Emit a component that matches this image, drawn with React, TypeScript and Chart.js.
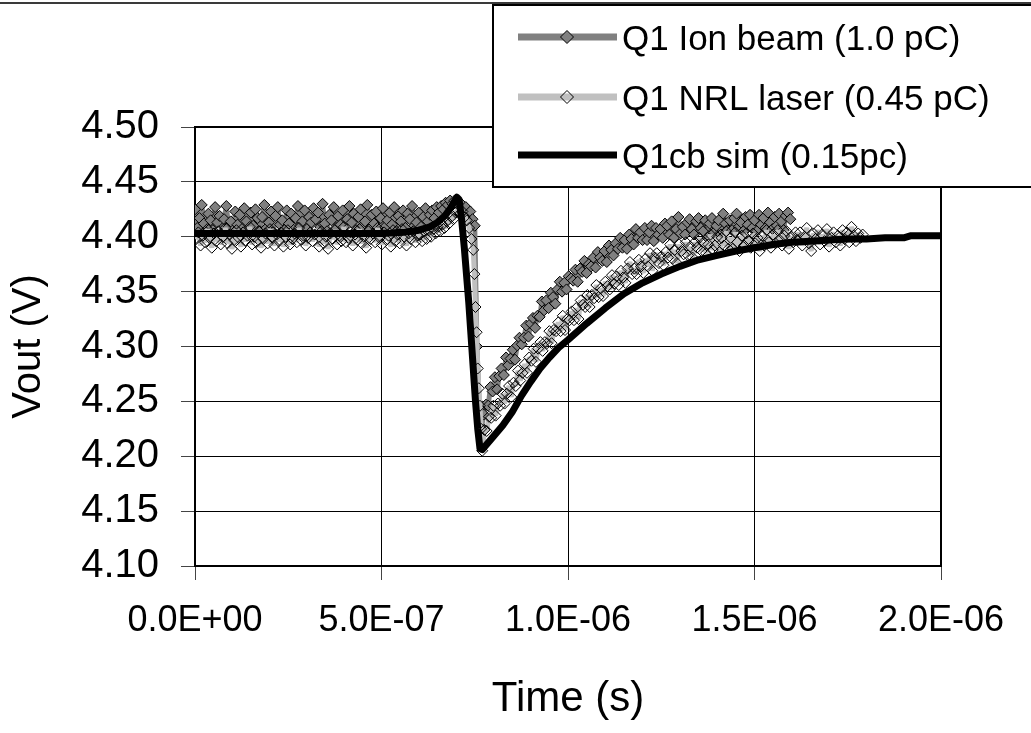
import React, { useEffect, useRef } from "react";
import { Chart, registerables } from "chart.js";

Chart.register(...registerables);

// ---------- data ----------
const seriesLabels = ["Q1 Ion beam (1.0 pC)", "Q1 NRL laser (0.45 pC)", "Q1cb sim (0.15pc)"];

const xTickValuesNs = [0, 500, 1000, 1500, 2000];
const xTickLabels = ["0.0E+00", "5.0E-07", "1.0E-06", "1.5E-06", "2.0E-06"];
const yTickValues = [4.1, 4.15, 4.2, 4.25, 4.3, 4.35, 4.4, 4.45, 4.5];
const yTickLabels = ["4.10", "4.15", "4.20", "4.25", "4.30", "4.35", "4.40", "4.45", "4.50"];

const xAxisTitle = "Time (s)";
const yAxisTitle = "Vout (V)";

const ionTimesNs = [
  0, 6, 12, 18, 24, 30, 36, 42, 48, 54,
  60, 66, 72, 78, 84, 90, 96, 102, 108, 114,
  120, 126, 132, 138, 144, 150, 156, 162, 168, 174,
  180, 186, 192, 198, 204, 210, 216, 222, 228, 234,
  240, 246, 252, 258, 264, 270, 276, 282, 288, 294,
  300, 306, 312, 318, 324, 330, 336, 342, 348, 354,
  360, 366, 372, 378, 384, 390, 396, 402, 408, 414,
  420, 426, 432, 438, 444, 450, 456, 462, 468, 474,
  480, 486, 492, 498, 504, 510, 516, 522, 528, 534,
  540, 546, 552, 558, 564, 570, 576, 582, 588, 594,
  600, 606, 612, 618, 624, 630, 636, 642, 648, 654,
  660, 666, 672, 678, 684, 690, 696, 702, 708, 714,
  720, 726, 732, 738, 744, 750, 756, 762, 768, 774,
  780, 786, 792, 798, 804, 810, 816, 822, 828, 834,
  840, 846, 852, 858, 864, 870, 876, 882, 888, 894,
  900, 906, 912, 918, 924, 930, 936, 942, 948, 954,
  960, 966, 972, 978, 984, 990, 996, 1002, 1008, 1014,
  1020, 1026, 1032, 1038, 1044, 1050, 1056, 1062, 1068, 1074,
  1080, 1086, 1092, 1098, 1104, 1110, 1116, 1122, 1128, 1134,
  1140, 1146, 1152, 1158, 1164, 1170, 1176, 1182, 1188, 1194,
  1200, 1206, 1212, 1218, 1224, 1230, 1236, 1242, 1248, 1254,
  1260, 1266, 1272, 1278, 1284, 1290, 1296, 1302, 1308, 1314,
  1320, 1326, 1332, 1338, 1344, 1350, 1356, 1362, 1368, 1374,
  1380, 1386, 1392, 1398, 1404, 1410, 1416, 1422, 1428, 1434,
  1440, 1446, 1452, 1458, 1464, 1470, 1476, 1482, 1488, 1494,
  1500, 1506, 1512, 1518, 1524, 1530, 1536, 1542, 1548, 1554,
  1560, 1566, 1572, 1578, 1584, 1590, 1596,
];
const ionVout = [
  4.425, 4.408, 4.417, 4.429, 4.412, 4.404, 4.421, 4.415, 4.406, 4.427,
  4.413, 4.419, 4.403, 4.416, 4.428, 4.409, 4.414, 4.401, 4.423, 4.411,
  4.420, 4.407, 4.426, 4.414, 4.402, 4.422, 4.410, 4.425, 4.417, 4.405,
  4.418, 4.429, 4.408, 4.413, 4.423, 4.404, 4.419, 4.427, 4.411, 4.415,
  4.406, 4.424, 4.412, 4.421, 4.402, 4.417, 4.428, 4.410, 4.414, 4.424,
  4.407, 4.418, 4.413, 4.426, 4.416, 4.422, 4.409, 4.430, 4.412, 4.405,
  4.420, 4.415, 4.427, 4.408, 4.419, 4.411, 4.424, 4.403, 4.416, 4.428,
  4.413, 4.421, 4.406, 4.418, 4.425, 4.410, 4.414, 4.429, 4.407, 4.420,
  4.412, 4.423, 4.404, 4.417, 4.426, 4.409, 4.415, 4.422, 4.411, 4.427,
  4.405, 4.419, 4.414, 4.424, 4.408, 4.421, 4.416, 4.428, 4.410, 4.413,
  4.422, 4.409, 4.418, 4.426, 4.414, 4.420, 4.424, 4.417, 4.427, 4.422,
  4.428, 4.425, 4.431, 4.429, 4.433, 4.430, 4.433, 4.431, 4.428, 4.430,
  4.424, 4.427, 4.420, 4.423, 4.416, 4.410, 4.300, 4.248, 4.226, 4.238,
  4.247, 4.246, 4.263, 4.259, 4.272, 4.261, 4.273, 4.280, 4.274, 4.290,
  4.283, 4.289, 4.297, 4.288, 4.301, 4.308, 4.302, 4.308, 4.319, 4.309,
  4.321, 4.326, 4.317, 4.328, 4.327, 4.341, 4.333, 4.342, 4.335, 4.349,
  4.345, 4.339, 4.352, 4.359, 4.350, 4.358, 4.352, 4.364, 4.362, 4.360,
  4.370, 4.359, 4.371, 4.368, 4.378, 4.367, 4.375, 4.373, 4.381, 4.372,
  4.386, 4.381, 4.378, 4.387, 4.377, 4.392, 4.388, 4.383, 4.394, 4.389,
  4.399, 4.390, 4.397, 4.389, 4.402, 4.398, 4.393, 4.407, 4.399, 4.404,
  4.397, 4.408, 4.397, 4.404, 4.410, 4.396, 4.408, 4.402, 4.407, 4.399,
  4.412, 4.410, 4.402, 4.414, 4.399, 4.407, 4.418, 4.403, 4.409, 4.402,
  4.413, 4.416, 4.407, 4.402, 4.414, 4.417, 4.408, 4.405, 4.415, 4.399,
  4.412, 4.417, 4.404, 4.410, 4.415, 4.402, 4.421, 4.412, 4.406, 4.415,
  4.406, 4.417, 4.421, 4.409, 4.413, 4.405, 4.418, 4.411, 4.420, 4.408,
  4.415, 4.405, 4.420, 4.411, 4.417, 4.408, 4.422, 4.413, 4.407, 4.418,
  4.410, 4.421, 4.414, 4.406, 4.419, 4.422, 4.416,
];

const nrlTimesNs = [
  0, 9, 15, 21, 27, 33, 39, 45, 51, 57,
  63, 69, 75, 81, 87, 93, 99, 105, 111, 117,
  123, 129, 135, 141, 147, 153, 159, 165, 171, 177,
  183, 189, 195, 201, 207, 213, 219, 225, 231, 237,
  243, 249, 255, 261, 267, 273, 279, 285, 291, 297,
  303, 309, 315, 321, 327, 333, 339, 345, 351, 357,
  363, 369, 375, 381, 387, 393, 399, 405, 411, 417,
  423, 429, 435, 441, 447, 453, 459, 465, 471, 477,
  483, 489, 495, 501, 507, 513, 519, 525, 531, 537,
  543, 549, 555, 561, 567, 573, 579, 585, 591, 597,
  603, 609, 615, 621, 627, 633, 639, 645, 651, 657,
  663, 669, 675, 681, 687, 693, 699, 705, 711, 717,
  723, 729, 735, 741,
  746, 749, 752, 755, 758, 761, 764, 767, 770,
  776, 782, 788, 794, 800, 806, 812, 818, 824, 830,
  836, 842, 848, 854, 860, 866, 872, 878, 884, 890,
  896, 902, 908, 914, 920, 926, 932, 938, 944, 950,
  956, 962, 968, 974, 980, 986, 992, 998, 1004, 1010,
  1016, 1022, 1028, 1034, 1040, 1046, 1052, 1058, 1064, 1070,
  1076, 1082, 1088, 1094, 1100, 1106, 1112, 1118, 1124, 1130,
  1136, 1142, 1148, 1154, 1160, 1166, 1172, 1178, 1184, 1190,
  1196, 1202, 1208, 1214, 1220, 1226, 1232, 1238, 1244, 1250,
  1256, 1262, 1268, 1274, 1280, 1286, 1292, 1298, 1304, 1310,
  1316, 1322, 1328, 1334, 1340, 1346, 1352, 1358, 1364, 1370,
  1376, 1382, 1388, 1394, 1400, 1406, 1412, 1418, 1424, 1430,
  1436, 1442, 1448, 1454, 1460, 1466, 1472, 1478, 1484, 1490,
  1496, 1502, 1508, 1514, 1520, 1526, 1532, 1538, 1544, 1550,
  1556, 1562, 1568, 1574, 1580, 1586, 1592, 1598, 1604, 1610,
  1616, 1622, 1628, 1634, 1640, 1646, 1652, 1658, 1664, 1670,
  1676, 1682, 1688, 1694, 1700, 1706, 1712, 1718, 1724, 1730,
  1736, 1742, 1748, 1754, 1760, 1766, 1772, 1778, 1784, 1790,
];
const nrlVout = [
  4.398, 4.404, 4.392, 4.401, 4.395, 4.407, 4.399, 4.390, 4.403, 4.396,
  4.405, 4.393, 4.400, 4.408, 4.394, 4.402, 4.389, 4.397, 4.406, 4.399,
  4.391, 4.404, 4.396, 4.401, 4.409, 4.393, 4.400, 4.395, 4.405, 4.390,
  4.398, 4.403, 4.394, 4.407, 4.399, 4.392, 4.402, 4.396, 4.404, 4.391,
  4.400, 4.406, 4.393, 4.398, 4.403, 4.395, 4.408, 4.397, 4.401, 4.392,
  4.399, 4.404, 4.396, 4.402, 4.407, 4.391, 4.405, 4.394, 4.400, 4.389,
  4.403, 4.398, 4.406, 4.393, 4.401, 4.396, 4.409, 4.395, 4.399, 4.404,
  4.392, 4.402, 4.397, 4.407, 4.394, 4.400, 4.390, 4.405, 4.398, 4.403,
  4.395, 4.408, 4.399, 4.393, 4.404, 4.397, 4.401, 4.391, 4.406, 4.396,
  4.402, 4.394, 4.407, 4.400, 4.392, 4.403, 4.398, 4.405, 4.395, 4.401,
  4.402, 4.396, 4.405, 4.398, 4.406, 4.400, 4.407, 4.403, 4.409, 4.405,
  4.411, 4.408, 4.414, 4.412, 4.418, 4.416, 4.422, 4.424, 4.421, 4.423,
  4.418, 4.415, 4.408, 4.398,
  4.388, 4.366, 4.336, 4.313, 4.280, 4.262, 4.246, 4.225, 4.205,
  4.224, 4.223, 4.236, 4.235, 4.246, 4.237, 4.248, 4.246, 4.257, 4.248,
  4.257, 4.264, 4.254, 4.267, 4.264, 4.278, 4.269, 4.276, 4.284, 4.276,
  4.290, 4.287, 4.298, 4.286, 4.298, 4.304, 4.296, 4.304, 4.303, 4.314,
  4.303, 4.315, 4.314, 4.322, 4.314, 4.328, 4.315, 4.325, 4.324, 4.332,
  4.324, 4.335, 4.325, 4.342, 4.338, 4.336, 4.347, 4.336, 4.347, 4.344,
  4.356, 4.345, 4.353, 4.346, 4.359, 4.355, 4.352, 4.365, 4.357, 4.364,
  4.356, 4.369, 4.363, 4.358, 4.371, 4.377, 4.366, 4.371, 4.366, 4.379,
  4.373, 4.367, 4.380, 4.373, 4.385, 4.369, 4.381, 4.385, 4.376, 4.382,
  4.374, 4.386, 4.381, 4.393, 4.380, 4.388, 4.376, 4.393, 4.387, 4.384,
  4.395, 4.383, 4.391, 4.381, 4.395, 4.390, 4.399, 4.387, 4.395, 4.385,
  4.393, 4.402, 4.388, 4.392, 4.400, 4.386, 4.399, 4.392, 4.405, 4.389,
  4.399, 4.389, 4.404, 4.395, 4.387, 4.401, 4.392, 4.403, 4.396, 4.390,
  4.403, 4.394, 4.399, 4.387, 4.401, 4.392, 4.406, 4.395, 4.390, 4.402,
  4.394, 4.406, 4.397, 4.392, 4.401, 4.405, 4.389, 4.400, 4.395, 4.404,
  4.397, 4.404, 4.392, 4.400, 4.408, 4.394, 4.387, 4.403, 4.398, 4.406,
  4.393, 4.402, 4.396, 4.407, 4.391, 4.399, 4.404, 4.395, 4.401, 4.392,
  4.406, 4.398, 4.404, 4.395, 4.409, 4.401, 4.396, 4.403, 4.399, 4.402,
];

const simTimesNs = [
  0, 100, 200, 300, 400, 500, 560, 600, 630, 650,
  670, 685, 695, 702, 708, 715, 722, 728, 734, 740,
  746, 752, 758, 764, 770, 780, 800, 825, 850, 875,
  900, 925, 950, 975, 1000, 1050, 1100, 1150, 1200, 1250,
  1300, 1350, 1400, 1450, 1500, 1550, 1600, 1650, 1700, 1750,
  1800, 1850, 1880, 1900, 1920, 2000,
];
const simVout = [
  4.403, 4.403, 4.403, 4.403, 4.403, 4.403, 4.404, 4.406, 4.409, 4.413,
  4.419, 4.426, 4.432, 4.436, 4.434, 4.415, 4.390, 4.365, 4.340, 4.310,
  4.280, 4.250, 4.225, 4.207, 4.206, 4.210, 4.218, 4.228, 4.240, 4.255,
  4.268, 4.280, 4.290, 4.299, 4.306, 4.321, 4.335, 4.348, 4.358, 4.366,
  4.373, 4.379, 4.383, 4.387, 4.390, 4.393, 4.395, 4.396, 4.397, 4.398,
  4.398, 4.399, 4.399, 4.399, 4.401, 4.401,
];

// ---------- styling ----------
const FONT = "'Liberation Sans', Arial, Helvetica, sans-serif";
const W = 1031;
const H = 733;

const toPoints = (xs: number[], ys: number[]) => xs.map((x, i) => ({ x, y: ys[i] }));

const decorPlugin = {
  id: "decor",
  beforeDatasetsDraw(chart: any) {
    const { ctx, chartArea } = chart;
    ctx.save();
    ctx.strokeStyle = "#000";
    ctx.lineWidth = 2;
    ctx.strokeRect(chartArea.left, chartArea.top, chartArea.right - chartArea.left, chartArea.bottom - chartArea.top);
    ctx.restore();
  },
  afterDraw(chart: any) {
    const ctx = chart.ctx as CanvasRenderingContext2D;
    ctx.save();
    // top border of the picture
    ctx.fillStyle = "#3a3a3a";
    ctx.fillRect(0, 2, chart.width, 2);

    // legend box
    const bx = 493, by = 5, bw = 560, bh = 182;
    ctx.fillStyle = "#fff";
    ctx.fillRect(bx, by, bw, bh);
    ctx.strokeStyle = "#000";
    ctx.lineWidth = 2;
    ctx.strokeRect(bx, by, bw, bh);

    const rowsY = [37, 97, 155];
    const baselines = [50, 110, 168];
    const ds = chart.data.datasets;
    ds.forEach((d: any, i: number) => {
      const y = rowsY[i];
      ctx.strokeStyle = d.borderColor;
      ctx.lineWidth = 7;
      ctx.lineCap = "butt";
      ctx.beginPath();
      ctx.moveTo(518, y);
      ctx.lineTo(617, y);
      ctx.stroke();
      if (d.pointRadius > 0) {
        const r = 6.5;
        ctx.beginPath();
        ctx.moveTo(567, y - r);
        ctx.lineTo(567 + r, y);
        ctx.lineTo(567, y + r);
        ctx.lineTo(567 - r, y);
        ctx.closePath();
        const bg = d.pointBackgroundColor;
        if (bg && bg !== "rgba(0,0,0,0)") {
          ctx.fillStyle = bg;
          ctx.fill();
        }
        ctx.strokeStyle = "#000";
        ctx.lineWidth = 1;
        ctx.stroke();
      }
      ctx.fillStyle = "#000";
      ctx.font = `35px ${FONT}`;
      ctx.textAlign = "left";
      ctx.textBaseline = "alphabetic";
      ctx.fillText(d.label, 622, baselines[i]);
    });
    ctx.restore();
  },
};

export default function App() {
  const canvasRef = useRef<HTMLCanvasElement | null>(null);

  useEffect(() => {
    document.body.style.margin = "0";
    const canvas = canvasRef.current;
    if (!canvas) return;

    const chart = new Chart(canvas, {
      type: "line",
      data: {
        datasets: [
          {
            label: seriesLabels[0],
            data: toPoints(ionTimesNs, ionVout),
            borderColor: "#808080",
            borderWidth: 5,
            borderJoinStyle: "bevel",
            pointStyle: "rectRot",
            pointRadius: 5.5,
            pointBackgroundColor: "#808080",
            pointBorderColor: "#000",
            pointBorderWidth: 1,
            tension: 0,
            order: 3,
          },
          {
            label: seriesLabels[1],
            data: toPoints(nrlTimesNs, nrlVout),
            borderColor: "#c0c0c0",
            borderWidth: 5,
            borderJoinStyle: "bevel",
            pointStyle: "rectRot",
            pointRadius: 5.5,
            pointBackgroundColor: "rgba(0,0,0,0)",
            pointBorderColor: "#000",
            pointBorderWidth: 1,
            tension: 0,
            order: 2,
          },
          {
            label: seriesLabels[2],
            data: toPoints(simTimesNs, simVout),
            borderColor: "#000",
            borderWidth: 7,
            borderJoinStyle: "round",
            pointRadius: 0,
            tension: 0,
            order: 1,
          },
        ],
      },
      options: {
        responsive: false,
        animation: false,
        devicePixelRatio: 1,
        layout: { padding: { left: 0, right: 90, top: 127, bottom: 0 } },
        plugins: {
          legend: { display: false },
          tooltip: { enabled: false },
          title: { display: false },
        },
        scales: {
          x: {
            type: "linear",
            min: 0,
            max: 2000,
            afterFit: (s: any) => {
              s.height = 167;
            },
            afterBuildTicks: (s: any) => {
              s.ticks = xTickValuesNs.map((v) => ({ value: v }));
            },
            ticks: {
              callback: (_v: any, i: number) => xTickLabels[i],
              font: { family: FONT, size: 36 },
              color: "#000",
              padding: 19,
              maxRotation: 0,
              autoSkip: false,
            },
            grid: { color: "#000", lineWidth: 1, tickLength: 14, tickColor: "#444" },
            border: { display: true, color: "#000", width: 2 },
            title: {
              display: true,
              text: xAxisTitle,
              font: { family: FONT, size: 42 },
              color: "#000",
              padding: { top: 0, bottom: 8 },
            },
          },
          y: {
            type: "linear",
            min: 4.1,
            max: 4.5,
            afterFit: (s: any) => {
              s.width = 195;
            },
            afterBuildTicks: (s: any) => {
              s.ticks = yTickValues.map((v) => ({ value: v }));
            },
            ticks: {
              callback: (_v: any, i: number) => yTickLabels[i],
              font: { family: FONT, size: 40 },
              color: "#000",
              padding: 22,
              autoSkip: false,
            },
            grid: { color: "#000", lineWidth: 1, tickLength: 14, tickColor: "#444" },
            border: { display: true, color: "#000", width: 2 },
            title: {
              display: true,
              text: yAxisTitle,
              font: { family: FONT, size: 40 },
              color: "#000",
              padding: { top: 5, bottom: 0 },
            },
          },
        },
      },
      plugins: [decorPlugin],
    });

    return () => chart.destroy();
  }, []);

  return (
    <div style={{ position: "fixed", left: 0, top: 0, width: W, height: H, background: "#fff" }}>
      <canvas ref={canvasRef} width={W} height={H} style={{ display: "block" }} />
    </div>
  );
}
